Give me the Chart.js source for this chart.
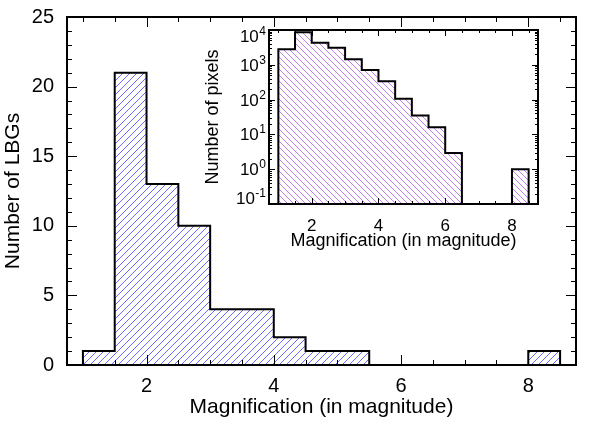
<!DOCTYPE html>
<html>
<head>
<meta charset="utf-8">
<script src="https://cdn.jsdelivr.net/npm/chart.js@4"></script>
<style>
  html, body { margin: 0; padding: 0; background: #fff; }
  #wrap { position: relative; width: 598px; height: 427px; }
  #main { position: absolute; left: 0; top: 0; }
  #inset { position: absolute; left: 200px; top: 20px; }
</style>
</head>
<body>
<div id="wrap">
  <canvas id="main" width="598" height="427"></canvas>
  <canvas id="inset" width="360" height="236"></canvas>
</div>
<script>
// histogram bins (left edges), 0.5 mag wide
const binStarts = [1, 1.5, 2, 2.5, 3, 3.5, 4, 4.5, 5, 5.5, 6, 6.5, 7, 7.5, 8];
const binWidth = 0.5;
const lbgCounts = [1, 21, 13, 10, 4, 4, 2, 1, 1, 0, 0, 0, 0, 0, 1];
const pixelCounts = [2800, 8600, 4300, 3100, 1440, 710, 336, 106, 35, 16, 2.9, 0, 0, 0, 1];

const magTicks = [2, 4, 6, 8];
const lbgTicks = [0, 5, 10, 15, 20, 25];
const pixelTicks = [0.1, 1, 10, 100, 1000, 10000];

const FONT = '"Liberation Sans", Arial, Helvetica, sans-serif';

// outline of a histogram as step points, empty bins sit on "floor"
function stepPoints(counts, floor) {
    const pts = [{ x: binStarts[0], y: floor }];
    counts.forEach((c, i) => pts.push({ x: binStarts[i], y: c > 0 ? c : floor }));
    pts.push({ x: binStarts[binStarts.length - 1] + binWidth, y: floor });
    return pts;
}

function hatch(ctx, color, gap, dir) {
    const c = document.createElement('canvas');
    c.width = gap;
    c.height = gap;
    const g = c.getContext('2d');
    g.strokeStyle = color;
    g.lineWidth = 1;
    g.beginPath();
    if (dir > 0) {
        g.moveTo(-1, gap + 1); g.lineTo(gap + 1, -1);
        g.moveTo(-1, 1); g.lineTo(1, -1);
        g.moveTo(gap - 1, gap + 1); g.lineTo(gap + 1, gap - 1);
    } else {
        g.moveTo(-1, -1); g.lineTo(gap + 1, gap + 1);
        g.moveTo(gap - 1, -1); g.lineTo(gap + 1, 1);
        g.moveTo(-1, gap - 1); g.lineTo(1, gap + 1);
    }
    g.stroke();
    return ctx.createPattern(c, 'repeat');
}

function linearMinor(scale, step) {
    const out = [];
    for (let v = Math.ceil(scale.min / step) * step; v < scale.max; v += step) {
        if (v > scale.min) out.push(v);
    }
    return out;
}

function logMinor(scale) {
    const out = [];
    for (let e = Math.floor(Math.log10(scale.min)); e <= Math.ceil(Math.log10(scale.max)); e++) {
        for (let m = 1; m < 10; m++) {
            const v = m * Math.pow(10, e);
            if (v > scale.min && v < scale.max) out.push(v);
        }
    }
    return out;
}

// IDL style box: frame plus inward ticks on all four sides
function frame(major, minor, xMinor, yMinor) {
    return {
        id: 'frame',
        afterDraw(chart) {
            const { ctx, chartArea: a, scales } = chart;
            ctx.save();
            ctx.strokeStyle = '#000';
            ctx.lineWidth = 1;
            ctx.beginPath();
            const xt = [[scales.x.ticks.map(t => t.value), major], [xMinor(scales.x), minor]];
            const yt = [[scales.y.ticks.map(t => t.value), major], [yMinor(scales.y), minor]];
            xt.forEach(([vals, len]) => vals.forEach(v => {
                const px = Math.round(scales.x.getPixelForValue(v)) + 0.5;
                ctx.moveTo(px, a.bottom); ctx.lineTo(px, a.bottom - len);
                ctx.moveTo(px, a.top); ctx.lineTo(px, a.top + len);
            }));
            yt.forEach(([vals, len]) => vals.forEach(v => {
                const py = Math.round(scales.y.getPixelForValue(v)) + 0.5;
                ctx.moveTo(a.left, py); ctx.lineTo(a.left + len, py);
                ctx.moveTo(a.right, py); ctx.lineTo(a.right - len, py);
            }));
            ctx.stroke();
            ctx.lineWidth = 2;
            ctx.strokeRect(a.left, a.top, a.right - a.left, a.bottom - a.top);
            ctx.restore();
        }
    };
}

// 10^n labels with raised exponent, kept inside the box height
const powerLabels = {
    id: 'powerLabels',
    afterDraw(chart) {
        const { ctx, chartArea: a, scales: { y } } = chart;
        ctx.save();
        ctx.fillStyle = '#000';
        ctx.textBaseline = 'alphabetic';
        ctx.textAlign = 'left';
        pixelTicks.forEach(v => {
            const exp = String(Math.round(Math.log10(v)));
            const py = y.getPixelForValue(v);
            const base = Math.max(a.top + 12, Math.min(a.bottom, py + 6));
            ctx.font = '12px ' + FONT;
            const supW = ctx.measureText(exp).width;
            ctx.font = '17px ' + FONT;
            const baseW = ctx.measureText('10').width;
            const right = a.left - 3;
            ctx.fillText('10', right - supW - baseW - 0.5, base);
            ctx.font = '12px ' + FONT;
            ctx.fillText(exp, right - supW, base - 7);
        });
        ctx.restore();
    }
};

const mainCanvas = document.getElementById('main');
new Chart(mainCanvas, {
    type: 'line',
    data: {
        datasets: [{
            data: stepPoints(lbgCounts, 0),
            stepped: true,
            borderColor: '#000',
            borderWidth: 2,
            pointRadius: 0,
            fill: 'origin',
            backgroundColor: hatch(mainCanvas.getContext('2d'), '#6a6aff', 7, 1)
        }]
    },
    options: {
        responsive: false,
        animation: false,
        devicePixelRatio: 1,
        layout: { padding: { top: 17, right: 22, left: 0, bottom: 0 } },
        plugins: { legend: { display: false }, tooltip: { enabled: false } },
        scales: {
            x: {
                type: 'linear', min: 0.75, max: 8.75,
                grid: { display: false }, border: { display: false },
                afterBuildTicks: s => { s.ticks = magTicks.map(v => ({ value: v })); },
                afterFit: s => { s.height = 62; },
                ticks: { font: { family: FONT, size: 20 }, color: '#000', padding: 1, maxRotation: 0, autoSkip: false },
                title: { display: true, text: 'Magnification (in magnitude)', color: '#000',
                         font: { family: FONT, size: 21 }, padding: { top: 0, bottom: 7 } }
            },
            y: {
                type: 'linear', min: 0, max: 25,
                grid: { display: false }, border: { display: false },
                afterBuildTicks: s => { s.ticks = lbgTicks.map(v => ({ value: v })); },
                afterFit: s => { s.width = 67; },
                ticks: { font: { family: FONT, size: 20 }, color: '#000', padding: 5, autoSkip: false },
                title: { display: true, text: 'Number of LBGs', color: '#000',
                         font: { family: FONT, size: 21 }, padding: { top: 1, bottom: 1 } }
            }
        }
    },
    plugins: [frame(10, 5, s => linearMinor(s, 0.5), s => linearMinor(s, 1))]
});

const insetCanvas = document.getElementById('inset');
new Chart(insetCanvas, {
    type: 'line',
    data: {
        datasets: [{
            data: stepPoints(pixelCounts, 0.01),
            stepped: true,
            borderColor: '#000',
            borderWidth: 2,
            pointRadius: 0,
            fill: 'start',
            backgroundColor: hatch(insetCanvas.getContext('2d'), '#c07ef0', 6, -1)
        }]
    },
    options: {
        responsive: false,
        animation: false,
        devicePixelRatio: 1,
        layout: { padding: { top: 10, right: 22, left: 0, bottom: 0 } },
        plugins: { legend: { display: false }, tooltip: { enabled: false } },
        scales: {
            x: {
                type: 'linear', min: 0.72, max: 8.78,
                grid: { display: false }, border: { display: false },
                afterBuildTicks: s => { s.ticks = magTicks.map(v => ({ value: v })); },
                afterFit: s => { s.height = 52; },
                ticks: { font: { family: FONT, size: 17 }, color: '#000', padding: 4, maxRotation: 0, autoSkip: false },
                title: { display: true, text: 'Magnification (in magnitude)', color: '#000',
                         font: { family: FONT, size: 18 }, padding: { top: 4, bottom: 4 } }
            },
            y: {
                type: 'logarithmic', min: 0.1, max: 10000,
                grid: { display: false }, border: { display: false },
                afterBuildTicks: s => { s.ticks = pixelTicks.map(v => ({ value: v })); },
                afterFit: s => { s.width = 69; },
                ticks: { display: false },
                title: { display: true, text: 'Number of pixels', color: '#000',
                         font: { family: FONT, size: 18 }, padding: { top: 2, bottom: 2 } }
            }
        }
    },
    plugins: [frame(6, 3, s => linearMinor(s, 0.5), logMinor), powerLabels]
});
</script>
</body>
</html>
